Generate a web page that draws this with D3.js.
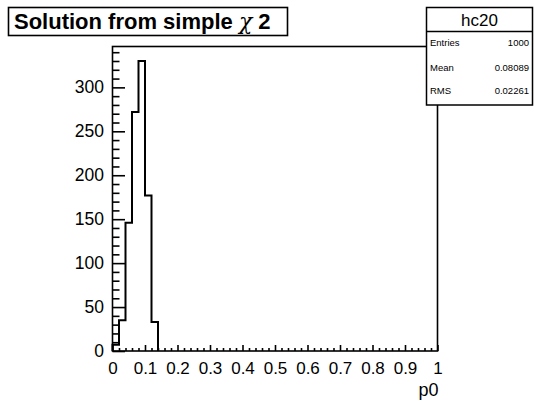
<!DOCTYPE html>
<html>
<head>
<meta charset="utf-8">
<script src="https://cdn.jsdelivr.net/npm/d3@7"></script>
<style>
  body { margin: 0; background: #fff; }
  text { font-family: "Liberation Sans", Arial, Helvetica, sans-serif; fill: #000; }
</style>
</head>
<body>
<svg id="chart"></svg>
<script>
// histogram hc20: bins of 0.02 starting at 0
let binLow = [0, 0.02, 0.04, 0.06, 0.08, 0.10, 0.12];
let counts = [7, 35, 146, 272, 330, 177, 33];
let binWidth = 0.02;

let xTicks = [0, 0.1, 0.2, 0.3, 0.4, 0.5, 0.6, 0.7, 0.8, 0.9, 1];
let yTicks = [0, 50, 100, 150, 200, 250, 300];

let statNames = ["Entries", "Mean", "RMS"];
let statValues = ["1000", "0.08089", "0.02261"];

let width = 534;
let height = 402;
let frameL = 112.5, frameR = 437.5, frameT = 46.5, frameB = 351;

let svg = d3.select("#chart").attr("width", width).attr("height", height);

let xScale = d3.scaleLinear().domain([0, 1]).range([frameL, frameR]);
let yScale = d3.scaleLinear().domain([0, d3.max(counts) * 1.05]).range([frameB, frameT]);

// minor ticks
let xMinor = d3.range(0, 1.0001, 0.02).filter(v => Math.abs(v * 10 - Math.round(v * 10)) > 1e-6);
let yMinor = d3.range(0, 346, 10).filter(v => v % 50 != 0);

svg.append("g")
    .attr("transform", "translate(0," + frameB + ")")
    .call(d3.axisBottom(xScale).tickValues(xMinor).tickSize(-3).tickFormat(""))
    .call(g => g.select(".domain").remove())
    .selectAll("line").attr("stroke", "#000").attr("stroke-width", 1.6);

svg.append("g")
    .attr("transform", "translate(0," + frameB + ")")
    .call(d3.axisBottom(xScale).tickValues(xTicks).tickSize(-6).tickPadding(10.5)
        .tickFormat(d => d3.format("")(+d.toFixed(1))))
    .call(g => g.select(".domain").remove())
    .call(g => g.selectAll("line").attr("stroke", "#000").attr("stroke-width", 1.6))
    .call(g => g.selectAll("text").attr("font-size", 17).attr("fill", "#000")
        .attr("font-family", "Liberation Sans, Arial, sans-serif"));

svg.append("g")
    .attr("transform", "translate(" + frameL + ",0)")
    .call(d3.axisLeft(yScale).tickValues(yMinor).tickSize(-7).tickFormat(""))
    .call(g => g.select(".domain").remove())
    .selectAll("line").attr("stroke", "#000").attr("stroke-width", 1.6);

svg.append("g")
    .attr("transform", "translate(" + frameL + ",0)")
    .call(d3.axisLeft(yScale).tickValues(yTicks).tickSize(-12.5).tickPadding(8.5))
    .call(g => g.select(".domain").remove())
    .call(g => g.selectAll("line").attr("stroke", "#000").attr("stroke-width", 1.6))
    .call(g => g.selectAll("text").attr("font-size", 17.5).attr("fill", "#000")
        .attr("font-family", "Liberation Sans, Arial, sans-serif"));

// histogram outline
let pts = [[0, 0]];
counts.forEach((c, i) => {
    pts.push([binLow[i], c]);
    pts.push([binLow[i] + binWidth, c]);
});
pts.push([binLow[binLow.length - 1] + binWidth, 0]);

let line = d3.line().x(d => xScale(d[0])).y(d => yScale(d[1]));
svg.append("path")
    .attr("d", line(pts))
    .attr("fill", "none")
    .attr("stroke", "#000")
    .attr("stroke-width", 2);

// frame
svg.append("rect")
    .attr("x", frameL).attr("y", frameT)
    .attr("width", frameR - frameL).attr("height", frameB - frameT)
    .attr("fill", "none").attr("stroke", "#000").attr("stroke-width", 1.6);

// axis title
svg.append("text")
    .attr("x", frameR + 1).attr("y", 396)
    .attr("text-anchor", "end")
    .attr("font-size", 18)
    .text("p0");

// title box
svg.append("rect")
    .attr("x", 8.5).attr("y", 7.5).attr("width", 279).attr("height", 28)
    .attr("fill", "#fff").attr("stroke", "#000").attr("stroke-width", 1.6);
let title = svg.append("text")
    .attr("x", 14).attr("y", 28.5)
    .attr("font-size", 22)
    .attr("font-weight", "bold");
title.append("tspan").text("Solution from simple ");
title.append("tspan").attr("font-weight", "normal").attr("font-family", "DejaVu Serif, serif")
    .attr("font-style", "italic").text("χ");
title.append("tspan").text(" 2");

// stats box
let sx = 426.5, sy = 7.5, sw = 106, sh = 97.5;
svg.append("rect")
    .attr("x", sx).attr("y", sy).attr("width", sw).attr("height", sh)
    .attr("fill", "#fff").attr("stroke", "#000").attr("stroke-width", 1.5);
svg.append("line")
    .attr("x1", sx).attr("x2", sx + sw).attr("y1", 31.5).attr("y2", 31.5)
    .attr("stroke", "#000").attr("stroke-width", 1.5);
svg.append("text")
    .attr("x", sx + sw / 2).attr("y", 26)
    .attr("text-anchor", "middle")
    .attr("font-size", 17)
    .text("hc20");

let rowY = [46, 71, 94];
statNames.forEach((n, i) => {
    svg.append("text").attr("x", 430).attr("y", rowY[i])
        .attr("font-size", 9.5).text(n);
    svg.append("text").attr("x", 529).attr("y", rowY[i])
        .attr("font-size", 9.5).attr("text-anchor", "end").text(statValues[i]);
});
</script>
</body>
</html>
